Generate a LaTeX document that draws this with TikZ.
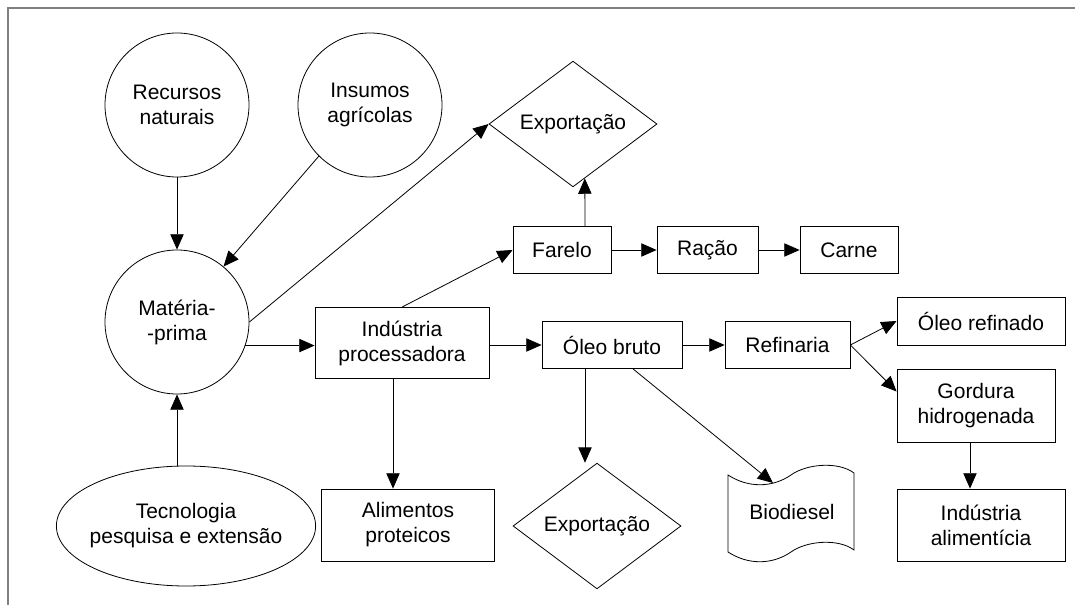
\documentclass[tikz,border=0pt]{standalone}
\usepackage{fontspec}
\setmainfont{Liberation Sans}
\usetikzlibrary{shapes.geometric,arrows.meta,calc}

\tikzset{every picture/.style={line width=0.6pt}}
\tikzset{
  txt/.style={align=center, inner sep=0pt, font=\fontsize{15.75}{18.75}\selectfont},
  box/.style={txt, draw, rectangle},
  circ/.style={txt, draw, circle, minimum size=108pt},
  losango/.style={txt, draw, diamond, minimum width=126pt, minimum height=91.5pt},
  arr/.style={-{Triangle[length=11.5pt,width=10pt]}},
}

\begin{document}
\begin{tikzpicture}[x=0.75pt,y=0.75pt,yscale=-1,xscale=1]
\useasboundingbox (0,0) rectangle (1075,605);

%Frame
\draw [color={rgb, 255:red, 128; green, 128; blue, 128 }, line width=1.2pt] (8,605) -- (8,8) -- (1075,8) ;

%Shape: Circle
\node [circ] (rec) at (177,105) {Recursos\\naturais};
%Shape: Circle
\node [circ] (ins) at (370,105) {Insumos\\agrícolas};
%Shape: Circle
\node [circ] (mp) at (177,322) {Matéria-\\-prima};
%Shape: Ellipse
\node [txt, draw, ellipse, inner sep=-3.5pt, minimum width=193.5pt, minimum height=90pt] (tec) at (186,526) {Tecnologia\\pesquisa e extensão};

%Shape: Diamond
\node [losango] (exp1) at (573,124) {Exportação};
%Shape: Diamond
\node [losango] (exp2) at (597,526) {Exportação};

%Shape: Rectangle
\node [box, minimum width=130.5pt, minimum height=53.25pt] (proc) at (402,343) {Indústria\\processadora};
\node [box, minimum width=73.5pt, minimum height=35.25pt] (far) at (562,250) {Farelo};
\node [box, minimum width=75.75pt, minimum height=35.25pt] (rac) at (707.5,250) {Ração};
\node [box, minimum width=73.5pt, minimum height=35.25pt] (car) at (849,250) {Carne};
\node [box, minimum width=105pt, minimum height=35.25pt] (ob) at (612,345) {Óleo bruto};
\node [box, minimum width=93.75pt, minimum height=35.25pt] (ref) at (787.5,345) {Refinaria};
\node [box, minimum width=126pt, minimum height=36pt] (orf) at (981,321) {Óleo refinado};
\node [box, minimum width=118.5pt, minimum height=54.75pt] (gor) at (976,405.5) {Gordura\\hidrogenada};
\node [box, minimum width=126pt, minimum height=54pt] (ali) at (981,525) {Indústria\\alimentícia};
\node [box, minimum width=129.75pt, minimum height=54pt] (alp) at (408,525) {Alimentos\\proteicos};

%Shape: Tape
\draw (728,475) .. controls (748,488) and (772,488) .. (791,475) .. controls (806,464) and (838,461) .. (854,473) -- (854,550) .. controls (838,538) and (806,541) .. (791,552) .. controls (772,565) and (748,565) .. (728,552) -- cycle ;
\node [txt] (bio) at (792,512) {Biodiesel};
\coordinate (bioin) at (773,483);

%Connectors
\draw [arr] (rec.south) -- (mp.north) ;
\draw [arr] (ins.225) -- (mp.50) ;
\draw [arr] (mp.south |- tec.north) -- (mp.south) ;
\draw [arr] (mp.east) -- (exp1.west) ;
\draw [arr] (mp.-19) -- (mp.-19 -| proc.west) ;
\draw [arr] (proc.north) -- (far.west) ;
\draw [arr] ($(far.north)+(23,0)$) -- ($(exp1.south)!0.14!(exp1.east)$) ;
\draw [arr] (far.east) -- (rac.west) ;
\draw [arr] (rac.east) -- (car.west) ;
\draw [arr] (ob.west -| proc.east) -- (ob.west) ;
\draw [arr] ($(proc.south)+(-9,0)$) coordinate (p1) -- (p1 |- alp.north) ;
\draw [arr] (ob.east) -- (ref.west) ;
\draw [arr] ($(ob.south)+(-27,0)$) coordinate (p2) -- (p2 |- exp2.north) ;
\draw [arr] ($(ob.south)+(21,0)$) -- (bioin) ;
\draw [arr] (ref.east) -- (orf.west) ;
\draw [arr] (ref.east) -- (gor.170) ;
\draw [arr] ($(gor.south)+(-6,0)$) coordinate (p3) -- (p3 |- ali.north) ;

\end{tikzpicture}
\end{document}
